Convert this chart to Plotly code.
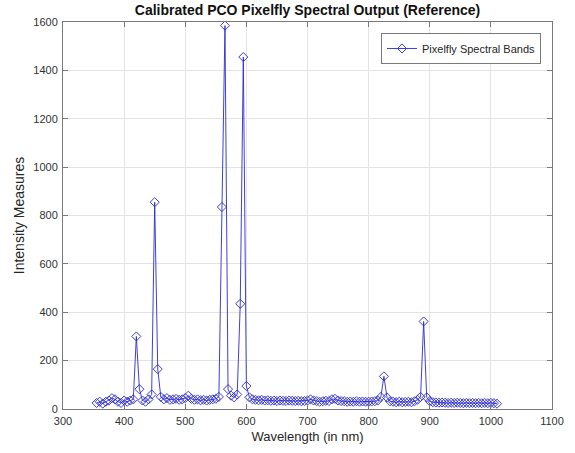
import plotly.graph_objects as go

wavelength = [355, 360, 365, 370, 375, 380, 385, 390, 395, 400, 405, 410, 415, 420, 425, 430, 435, 440, 445, 450,
              455, 460, 465, 470, 475, 480, 485, 490, 495, 500, 505, 510, 515, 520, 525, 530, 535, 540, 545, 550,
              555, 560, 565, 570, 575, 580, 585, 590, 595, 600, 605, 610, 615, 620, 625, 630, 635, 640, 645, 650,
              655, 660, 665, 670, 675, 680, 685, 690, 695, 700, 705, 710, 715, 720, 725, 730, 735, 740, 745, 750,
              755, 760, 765, 770, 775, 780, 785, 790, 795, 800, 805, 810, 815, 820, 825, 830, 835, 840, 845, 850,
              855, 860, 865, 870, 875, 880, 885, 890, 895, 900, 905, 910, 915, 920, 925, 930, 935, 940, 945, 950,
              955, 960, 965, 970, 975, 980, 985, 990, 995, 1000, 1005, 1010]

intensity = [25, 30, 22, 30, 35, 45, 40, 30, 25, 35, 30, 35, 40, 300, 82, 35, 30, 40, 60, 855,
             165, 50, 40, 45, 38, 40, 42, 38, 40, 45, 55, 42, 38, 40, 36, 38, 35, 38, 40, 42,
             50, 835, 1585, 82, 55, 48, 60, 435, 1455, 95, 48, 40, 38, 36, 38, 35, 36, 34, 35, 33,
             35, 34, 33, 35, 34, 33, 34, 32, 33, 35, 40, 35, 33, 30, 32, 34, 33, 40, 42, 35,
             33, 32, 30, 31, 30, 32, 30, 31, 30, 30, 31, 32, 35, 50, 135, 48, 32, 30, 28, 30,
             28, 29, 30, 28, 32, 38, 50, 362, 48, 32, 28, 27, 26, 27, 26, 25, 26, 25, 26, 25,
             24, 25, 24, 25, 24, 25, 24, 25, 24, 25, 24, 22]

x_ticks = [300, 400, 500, 600, 700, 800, 900, 1000, 1100]
y_ticks = [0, 200, 400, 600, 800, 1000, 1200, 1400, 1600]

FONT = "Liberation Sans, Arial"

fig = go.Figure()
fig.add_trace(go.Scatter(
    x=wavelength, y=intensity, mode="lines+markers",
    name="Pixelfly Spectral Bands",
    line=dict(color="#2a2ad0", width=0.9),
    marker=dict(symbol="diamond-open", size=7, color="#2a2ad0", line=dict(width=0.9)),
))

axis_common = dict(
    showgrid=True, gridcolor="#e3e3e3", gridwidth=1,
    showline=True, linecolor="#7a7a7a", linewidth=1, mirror="ticks",
    ticks="inside", ticklen=5, tickcolor="#7a7a7a",
    tickfont=dict(family=FONT, size=11, color="#333333"),
    zeroline=False,
)

fig.update_layout(
    width=575, height=453,
    margin=dict(l=63, r=23, t=22, b=44),
    paper_bgcolor="white", plot_bgcolor="white",
    title=dict(text="<b>Calibrated PCO Pixelfly Spectral Output (Reference)</b>",
               x=0.5, xref="paper", y=1 - 10 / 453, yanchor="middle",
               font=dict(family=FONT, size=14, color="#111")),
    xaxis=dict(range=[300, 1100], tickvals=x_ticks, ticklabelstandoff=2,
               title=dict(text="Wavelength (in nm)", standoff=5,
                          font=dict(family=FONT, size=13, color="#262626")),
               **axis_common),
    yaxis=dict(range=[0, 1600], tickvals=y_ticks, ticklabelstandoff=2,
               title=dict(text="Intensity Measures", standoff=5,
                          font=dict(family=FONT, size=14, color="#262626")),
               **axis_common),
    legend=dict(x=0.9775, y=0.9716, xanchor="right", yanchor="top",
                bgcolor="white", bordercolor="#7a7a7a", borderwidth=1,
                font=dict(family=FONT, size=11, color="#262626")),
    showlegend=True,
)

fig.write_html("out.html")
